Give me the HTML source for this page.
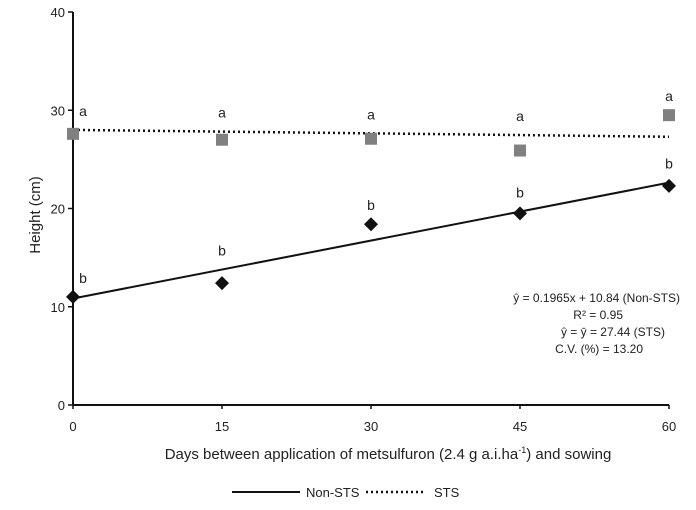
<!DOCTYPE html>
<html><head><meta charset="utf-8"><style>
body{margin:0;background:#fff;width:696px;height:505px;overflow:hidden}
text{font-family:"Liberation Sans",Arial,sans-serif;fill:#222}
</style></head><body>
<svg id="chart" width="696" height="505" xmlns="http://www.w3.org/2000/svg"></svg>
<script>
const days=[0,15,30,45,60];
const stsValues=[27.6,27.0,27.1,25.9,29.5];
const nonStsValues=[11.0,12.4,18.4,19.5,22.3];
const stsLetters=['a','a','a','a','a'];
const nonStsLetters=['b','b','b','b','b'];
const yTicks=[0,10,20,30,40];
const xTicks=[0,15,30,45,60];
const nonStsFit=[10.84,0.1965];
const stsMean=[28.0,27.3];
const NS='http://www.w3.org/2000/svg';
const svg=document.getElementById('chart');
const X=v=>73+v*(669-73)/60;
const Y=v=>405-v*(405-12)/40;
function el(tag,attrs,parent){const e=document.createElementNS(NS,tag);for(const k in attrs)e.setAttribute(k,attrs[k]);(parent||svg).appendChild(e);return e;}
function txt(s,attrs){const t=el('text',attrs);t.textContent=s;return t;}
let a=el('line',{x1:X(0),y1:Y(0),x2:X(0),y2:Y(40),stroke:'#111','stroke-width':2});

a=el('line',{x1:X(0),y1:Y(0),x2:X(60),y2:Y(0),stroke:'#111','stroke-width':2});

yTicks.forEach(v=>{el('line',{x1:X(0)-5,y1:Y(v),x2:X(0),y2:Y(v),stroke:'#111','stroke-width':1.5});
 const t=txt(String(v),{x:X(0)-8,y:Y(v)+5,'text-anchor':'end','font-size':13});
 });
xTicks.forEach(v=>{el('line',{x1:X(v),y1:Y(0),x2:X(v),y2:Y(0)+4,stroke:'#111','stroke-width':1.5});
 const t=txt(String(v),{x:X(v),y:431,'text-anchor':'middle','font-size':13});
 });
let t=txt('Height (cm)',{x:0,y:0,transform:'translate(40,215) rotate(-90)','text-anchor':'middle','font-size':15});

t=el('text',{x:388,y:459,'text-anchor':'middle','font-size':15});
t.innerHTML='Days between application of metsulfuron (2.4 g a.i.ha<tspan font-size="9" dy="-6">-1</tspan><tspan dy="6">) and sowing</tspan>';

a=el('line',{x1:X(0),y1:Y(stsMean[0]),x2:X(60),y2:Y(stsMean[1]),stroke:'#111','stroke-width':2.5,'stroke-dasharray':'2,3'});

a=el('line',{x1:X(0),y1:Y(nonStsFit[0]),x2:X(60),y2:Y(nonStsFit[0]+nonStsFit[1]*60),stroke:'#111','stroke-width':2});

days.forEach((d,i)=>{
 const s=el('rect',{x:X(d)-6,y:Y(stsValues[i])-6,width:12,height:12,fill:'#808080'});
 
 const cx=X(d),cy=Y(nonStsValues[i]);
 const p=el('polygon',{points:`${cx},${cy-7} ${cx+7},${cy} ${cx},${cy+7} ${cx-7},${cy}`,fill:'#111'});
 
 const dx=d===0?10:0;
 const stsTop=Math.max(stsValues[i],stsMean[0]+(stsMean[1]-stsMean[0])*d/60);
 const nsTop=Math.max(nonStsValues[i],nonStsFit[0]+nonStsFit[1]*d);
 let l=txt(stsLetters[i],{x:X(d)+dx,y:Y(stsTop)-14,'text-anchor':'middle','font-size':14});
 
 l=txt(nonStsLetters[i],{x:X(d)+dx,y:Y(nsTop)-14,'text-anchor':'middle','font-size':14});
 
});
const eq=[['ŷ = 0.1965x + 10.84 (Non-STS)',302],['R² = 0.95',319],['ŷ = ȳ = 27.44 (STS)',336],['C.V. (%) = 13.20',353]];
const eqx=[680,623,665,643];
eq.forEach((e,i)=>{const q=txt(e[0],{x:eqx[i],y:e[1],'text-anchor':'end','font-size':12});
 });
a=el('line',{x1:232,y1:492,x2:300,y2:492,stroke:'#111','stroke-width':2});

t=txt('Non-STS',{x:306,y:497,'font-size':13});
a=el('line',{x1:366,y1:492,x2:424,y2:492,stroke:'#111','stroke-width':2.5,'stroke-dasharray':'2,3'});

t=txt('STS',{x:434,y:497,'font-size':13});
</script>
</body></html>
